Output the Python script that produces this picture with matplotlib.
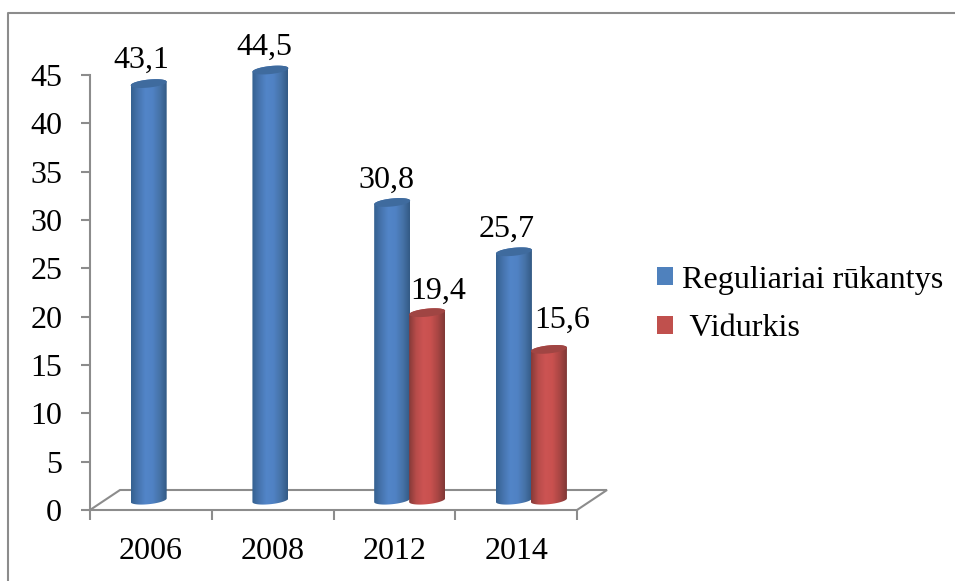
import numpy as np
import matplotlib
matplotlib.use("Agg")
import matplotlib.pyplot as plt
from matplotlib.colors import LinearSegmentedColormap
from matplotlib.lines import Line2D
from matplotlib.patches import Patch, Polygon

years = ["2006", "2008", "2012", "2014"]
regular = [43.1, 44.5, 30.8, 25.7]
average = [None, None, 19.4, 15.6]
regular_labels = ["43,1", "44,5", "30,8", "25,7"]
average_labels = [None, None, "19,4", "15,6"]
y_ticks = [0, 5, 10, 15, 20, 25, 30, 35, 40, 45]
series_names = ["Reguliariai rūkantys", " Vidurkis"]

W, H = 955, 581
plt.rcParams["font.family"] = ["Liberation Serif", "DejaVu Serif"]
fig = plt.figure(figsize=(W / 100, H / 100), dpi=100, facecolor="white")
L, R, T, B = 90, 577, 75, 510
ax = fig.add_axes([L / W, 1 - B / H, (R - L) / W, (B - T) / H])
GREY = "#8c8c8c"
px_x = 4 / (R - L)
px_y = 45 / (B - T)

# outer frame (only top and left edges fall inside the crop)
fig.add_artist(Line2D([8 / W, 8 / W, 1], [0, 1 - 13 / H, 1 - 13 / H], color=GREY, lw=1.5))

blue_cm = LinearSegmentedColormap.from_list("b", ["#34608f", "#4674ae", "#5285c8", "#5082c4", "#4673a8", "#335a84"])
red_cm = LinearSegmentedColormap.from_list("r", ["#853a38", "#b84c4a", "#cc5453", "#c9514f", "#a94644", "#7f3836"])
grad = np.linspace(0, 1, 256).reshape(1, -1)

BAR_W = 36 * px_x
BASE = 9.8 * px_y
HH = 4.0 * px_y
TILT = 1.8 * px_y


def ell(cx, cy, t):
    return np.column_stack([cx + BAR_W / 2 * np.cos(t), cy + HH * np.sin(t) + TILT * np.cos(t)])


def cylinder(cx, value, cmap, cap):
    top = BASE + value
    bottom_arc = ell(cx, BASE, np.linspace(np.pi, 2 * np.pi, 40))
    top_arc = ell(cx, top, np.linspace(0, np.pi, 40))
    pts = np.vstack([bottom_arc, top_arc])
    im = ax.imshow(grad, cmap=cmap, aspect="auto", zorder=3, interpolation="bilinear",
                   extent=[cx - BAR_W / 2, cx + BAR_W / 2, BASE - HH * 2, top + HH * 2])
    im.set_clip_box(fig.bbox)
    im.set_clip_path(Polygon(pts, closed=True, transform=ax.transData))
    ax.add_patch(Polygon(ell(cx, top, np.linspace(0, 2 * np.pi, 60)), closed=True,
                         facecolor=cap, edgecolor="none", zorder=4, clip_on=False))


xs = np.arange(len(years)) + 0.5
offset_blue, offset_red = -2.2 * px_x, 32.8 * px_x
for x, v in zip(xs, regular):
    cylinder(x + offset_blue, v, blue_cm, "#3f6b9e")
for x, v in zip(xs, average):
    if v is not None:
        cylinder(x + offset_red, v, red_cm, "#a04543")

# axes
ax.set_xlim(0, 4)
ax.set_ylim(0, 45)
ax.patch.set_alpha(0)
for s in ("top", "right"):
    ax.spines[s].set_visible(False)
for s in ("left", "bottom"):
    ax.spines[s].set_color(GREY)
    ax.spines[s].set_linewidth(1.5)
ax.set_yticks(y_ticks)
ax.set_xticks(xs)
ax.set_xticklabels(years)
ax.set_xticks(np.arange(5), minor=True)
ax.tick_params(axis="y", length=6.5, width=1.5, color=GREY, pad=13.5, labelsize=23)
ax.tick_params(axis="x", which="major", length=0, pad=19.5, labelsize=23)
ax.tick_params(axis="x", which="minor", length=7, width=1.5, color=GREY)

# floor of the 3D box
DX, DY = 30 * px_x, 20 * px_y
ax.plot([0, DX, 4 + DX, 4], [0, DY, DY, 0], color=GREY, lw=1.5, zorder=2, clip_on=False,
        solid_joinstyle="miter")

# data labels, offset in pixels from the bar top
blue_off = [(-7, 16), (-6, 15), (-6, 15), (-7, 15)]
red_off = [None, None, (11, 14), (13, 22)]
LABEL_SIZE = 23
for x, v, t, o in zip(xs, regular, regular_labels, blue_off):
    ax.annotate(t, (x + offset_blue, BASE + v), xytext=(o[0] * 0.72, o[1] * 0.72),
                textcoords="offset points", ha="center", va="baseline", fontsize=LABEL_SIZE,
                annotation_clip=False, zorder=5)
for x, v, t, o in zip(xs, average, average_labels, red_off):
    if v is not None:
        ax.annotate(t, (x + offset_red, BASE + v), xytext=(o[0] * 0.72, o[1] * 0.72),
                    textcoords="offset points", ha="center", va="baseline", fontsize=LABEL_SIZE,
                    annotation_clip=False, zorder=5)

# legend
handles = [Patch(facecolor="#4f81bd"), Patch(facecolor="#c0504d")]
fig.legend(handles, series_names, loc="center left", bbox_to_anchor=(651 / W, 1 - 304.5 / H),
           frameon=False, fontsize=23.1, handlelength=0.5, handleheight=0.5,
           handletextpad=0.27, labelspacing=0.62, borderpad=0.2, borderaxespad=0)

fig.savefig("out.png", dpi=100, facecolor="white")
